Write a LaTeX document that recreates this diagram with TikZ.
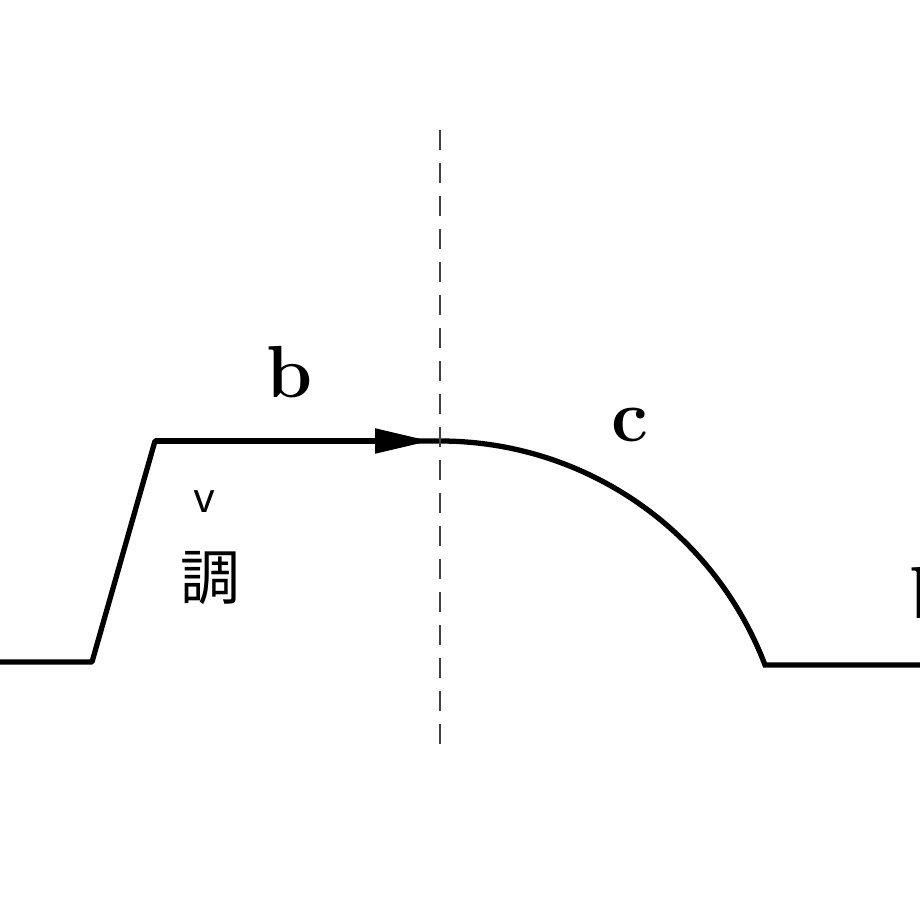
\documentclass[tikz,border=0pt]{standalone}
\usepackage{fontspec}
\usepackage{tikz}
\usetikzlibrary{arrows.meta}
\newfontfamily\cjk{Noto Sans CJK JP}

\begin{document}
\begin{tikzpicture}[>={Triangle[length=5.5mm, width=2.4mm]}, line width=1.5pt,
    guide/.style={line width=0.6pt, black!75, dash pattern=on 2mm off 1.3mm},
    lbl/.style={font=\fontsize{21}{25}\selectfont\bfseries}]
        \useasboundingbox (0, 0) rectangle (9.2, 9.2);
        % profile
        \coordinate (start) at (0, 2.58);
        \coordinate (rise) at (0.92, 2.58);
        \coordinate (top) at (1.55, 4.79);
        \coordinate (tip) at (4.30, 4.79);
        \coordinate (crest) at (4.40, 4.79);
        \coordinate (foot) at (7.65, 2.55);
        \coordinate (stop) at (9.2, 2.55);
        \path[draw, line join=round] (start) -- (rise) -- (top) -- (crest);
        \path[draw, ->] (top) -- (tip);
        \path[draw] (crest) arc[start angle=90, end angle=20.85, radius=3.478] -- (stop);
        % axis
        \path[draw, guide] (4.40, 7.90) -- (4.40, 1.70);
        \node[lbl] (b) at (2.90, 5.48) {b};
        \node[lbl] (c) at (6.30, 4.95) {c};
        \node[lbl] (b2) at (9.33, 3.27) {b};
        \node[font=\sffamily\fontsize{14}{16}\selectfont] (v) at (2.05, 4.18) {v};
        \node[font=\cjk\fontsize{17}{20}\selectfont] (tone) at (2.10, 3.42) {調};
    \end{tikzpicture}
\end{document}
